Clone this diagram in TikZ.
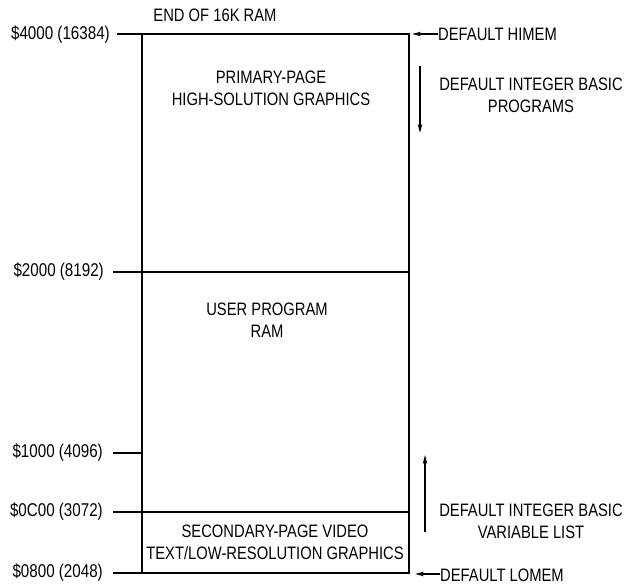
\documentclass[tikz,border=0pt]{standalone}
\usepackage{fontspec}
\setmainfont{Liberation Sans}[FakeStretch=0.82]
\usetikzlibrary{arrows.meta}
\tikzset{
  memline/.style={line width=1.6pt},
  addr/.style={anchor=east, inner sep=0pt, font=\fontsize{18.5}{20}\selectfont},
  lbl/.style={inner sep=0pt, align=center, font=\fontsize{18}{22}\selectfont},
  ptr/.style={line width=1.4pt, -{Stealth[length=9pt,width=4.5pt]}},
}
\begin{document}
\begin{tikzpicture}[x=1pt,y=-1pt]
\useasboundingbox (0,0) rectangle (627,585);

% memory map column
\coordinate (tl) at (142,34);
\coordinate (tr) at (409,34);
\coordinate (bl) at (142,573);
\coordinate (br) at (409,573);
\coordinate (m2r) at (409,272);
\coordinate (m0r) at (409,512);
\coordinate (m1r) at (142,453);

% address labels
\node[addr] (a4000) at (110,35) {\$4000 (16384)};
\node[addr] (a2000) at (104,272) {\$2000 (8192)};
\node[addr] (a1000) at (103,453) {\$1000 (4096)};
\node[addr] (a0c00) at (103,512) {\$0C00 (3072)};
\node[addr] (a0800) at (103,573) {\$0800 (2048)};

\draw[memline] ([xshift=7pt]a4000.east |- tl) -- (tr) -- (br) -- ([xshift=10pt]a0800.east |- bl);
\draw[memline] (tl) -- (bl);
\draw[memline] ([xshift=9pt]a2000.east |- m2r) -- (m2r);
\draw[memline] ([xshift=10pt]a0c00.east |- m0r) -- (m0r);
\draw[memline] ([xshift=10pt]a1000.east |- m1r) -- (m1r);

% region names
\node[lbl] (endram) at (215,15) {END OF 16K RAM};
\node[lbl] (prim) at (271,88) {PRIMARY-PAGE\\HIGH-SOLUTION GRAPHICS};
\node[lbl] (user) at (267,320) {USER PROGRAM\\RAM};
\node[lbl] (sec) at (275,542) {SECONDARY-PAGE VIDEO\\TEXT/LOW-RESOLUTION GRAPHICS};

% pointers on the right
\node[lbl, anchor=west] (himem) at (438,34) {DEFAULT HIMEM};
\coordinate (hitip) at (412,34);
\draw[ptr] (himem.west) -- (hitip);

\node[lbl, anchor=west] (lomem) at (440,575) {DEFAULT LOMEM};
\coordinate (lotip) at (415,574);
\draw[ptr] (lomem.west |- lotip) -- (lotip);

\node[lbl] (progs) at (531,95) {DEFAULT INTEGER BASIC\\PROGRAMS};
\coordinate (pgtop) at (420,66);
\coordinate (pgbot) at (420,133);
\draw[ptr] (pgtop) -- (pgbot);

\node[lbl] (vars) at (531,521) {DEFAULT INTEGER BASIC\\VARIABLE LIST};
\coordinate (vrbot) at (425,532);
\coordinate (vrtop) at (425,455);
\draw[ptr] (vrbot) -- (vrtop);
\end{tikzpicture}
\end{document}
